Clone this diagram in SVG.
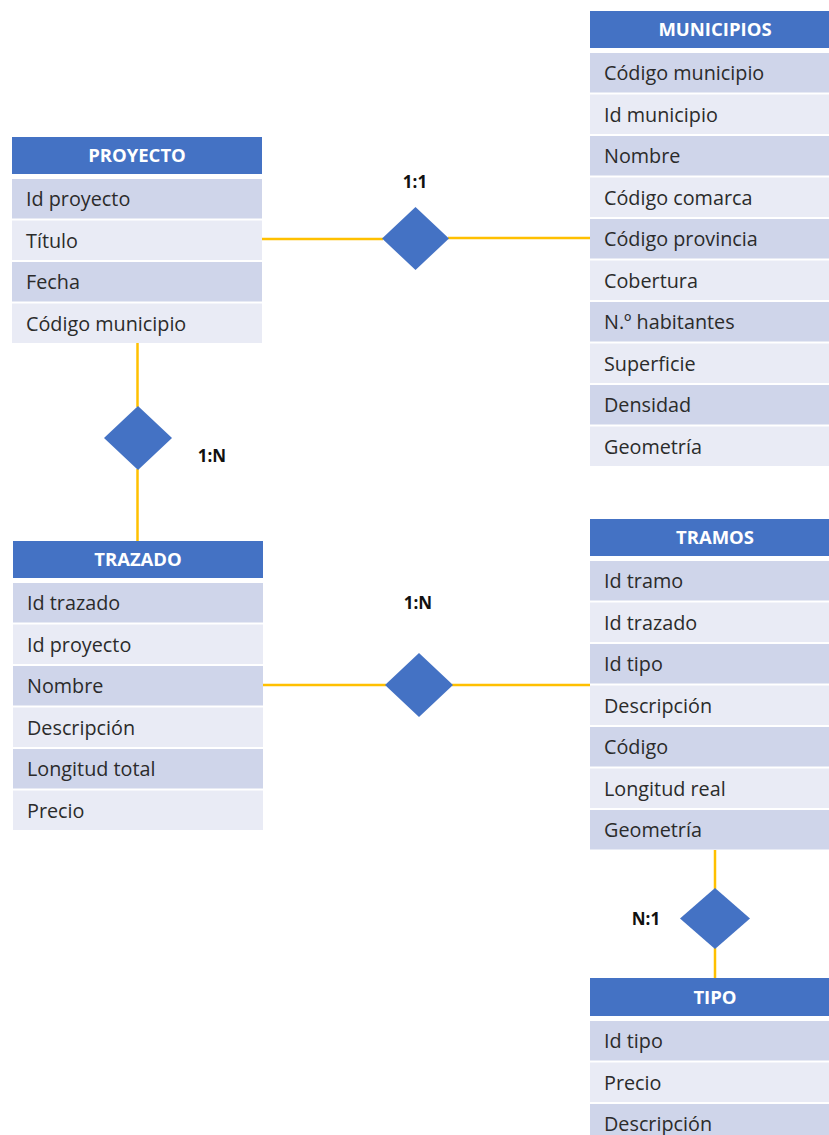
<svg xmlns="http://www.w3.org/2000/svg" width="829" height="1135" viewBox="0 0 829 1135">
<style>
.hd{fill:#4472C4}
.d{fill:#CFD5EA}
.l{fill:#E9EBF5}
.ht{font-family:"Open Sans","Liberation Sans",sans-serif;font-weight:bold;font-size:18.5px;fill:#fff;text-anchor:middle}
.t{font-family:"Open Sans","Liberation Sans",sans-serif;font-size:19.8px;fill:#2b2b2b}
.lb{font-family:"Open Sans","Liberation Sans",sans-serif;font-weight:bold;font-size:17px;fill:#111;text-anchor:middle}
.dm{fill:#4472C4}
.c{stroke:#FFC000;stroke-width:2.5;fill:none}
</style>
<g id="connectors">
<line class="c" x1="262" y1="239" x2="383" y2="239"/>
<line class="c" x1="448" y1="238" x2="590" y2="238"/>
<line class="c" x1="137.5" y1="343" x2="137.5" y2="407"/>
<line class="c" x1="137.5" y1="469" x2="137.5" y2="541"/>
<line class="c" x1="262" y1="685" x2="386" y2="685"/>
<line class="c" x1="452" y1="685" x2="590" y2="685"/>
<line class="c" x1="715" y1="850" x2="715" y2="889"/>
<line class="c" x1="715" y1="948" x2="715" y2="978"/>
</g>
<g id="rel-proyecto-municipios">
<polygon class="dm" points="415.5,207 449,238.5 415.5,270 382,238.5"/>
<text class="lb" x="415" y="188">1:1</text>
</g>
<g id="rel-proyecto-trazado">
<polygon class="dm" points="138,406 172,438 138,470 104,438"/>
<text class="lb" x="212" y="462">1:N</text>
</g>
<g id="rel-trazado-tramos">
<polygon class="dm" points="419,653 453,685 419,717 385,685"/>
<text class="lb" x="418" y="609">1:N</text>
</g>
<g id="rel-tramos-tipo">
<polygon class="dm" points="715,888 750,918.5 715,949 680,918.5"/>
<text class="lb" x="646" y="925">N:1</text>
</g>
<g id="proyecto">
<rect class="hd" x="12" y="137" width="250" height="37"/>
<text class="ht" x="137" y="162">PROYECTO</text>
<rect class="d" x="12" y="179" width="250" height="39.5"/>
<rect class="l" x="12" y="220.5" width="250" height="39.5"/>
<rect class="d" x="12" y="262" width="250" height="39.5"/>
<rect class="l" x="12" y="303.5" width="250" height="39.5"/>
<text class="t" x="26" y="206">Id proyecto</text>
<text class="t" x="26" y="247.5">Título</text>
<text class="t" x="26" y="289">Fecha</text>
<text class="t" x="26" y="330.5">Código municipio</text>
</g>
<g id="municipios">
<rect class="hd" x="590" y="11" width="250" height="37"/>
<text class="ht" x="715" y="36">MUNICIPIOS</text>
<rect class="d" x="590" y="53" width="250" height="39.5"/>
<rect class="l" x="590" y="94.5" width="250" height="39.5"/>
<rect class="d" x="590" y="136" width="250" height="39.5"/>
<rect class="l" x="590" y="177.5" width="250" height="39.5"/>
<rect class="d" x="590" y="219" width="250" height="39.5"/>
<rect class="l" x="590" y="260.5" width="250" height="39.5"/>
<rect class="d" x="590" y="302" width="250" height="39.5"/>
<rect class="l" x="590" y="343.5" width="250" height="39.5"/>
<rect class="d" x="590" y="385" width="250" height="39.5"/>
<rect class="l" x="590" y="426.5" width="250" height="39.5"/>
<text class="t" x="604" y="80">Código municipio</text>
<text class="t" x="604" y="121.5">Id municipio</text>
<text class="t" x="604" y="163">Nombre</text>
<text class="t" x="604" y="204.5">Código comarca</text>
<text class="t" x="604" y="246">Código provincia</text>
<text class="t" x="604" y="287.5">Cobertura</text>
<text class="t" x="604" y="329">N.º habitantes</text>
<text class="t" x="604" y="370.5">Superficie</text>
<text class="t" x="604" y="412">Densidad</text>
<text class="t" x="604" y="453.5">Geometría</text>
</g>
<g id="trazado">
<rect class="hd" x="13" y="541" width="250" height="37"/>
<text class="ht" x="138" y="566">TRAZADO</text>
<rect class="d" x="13" y="583" width="250" height="39.5"/>
<rect class="l" x="13" y="624.5" width="250" height="39.5"/>
<rect class="d" x="13" y="666" width="250" height="39.5"/>
<rect class="l" x="13" y="707.5" width="250" height="39.5"/>
<rect class="d" x="13" y="749" width="250" height="39.5"/>
<rect class="l" x="13" y="790.5" width="250" height="39.5"/>
<text class="t" x="27" y="610">Id trazado</text>
<text class="t" x="27" y="651.5">Id proyecto</text>
<text class="t" x="27" y="693">Nombre</text>
<text class="t" x="27" y="734.5">Descripción</text>
<text class="t" x="27" y="776">Longitud total</text>
<text class="t" x="27" y="817.5">Precio</text>
</g>
<g id="tramos">
<rect class="hd" x="590" y="519" width="250" height="37"/>
<text class="ht" x="715" y="544">TRAMOS</text>
<rect class="d" x="590" y="561" width="250" height="39.5"/>
<rect class="l" x="590" y="602.5" width="250" height="39.5"/>
<rect class="d" x="590" y="644" width="250" height="39.5"/>
<rect class="l" x="590" y="685.5" width="250" height="39.5"/>
<rect class="d" x="590" y="727" width="250" height="39.5"/>
<rect class="l" x="590" y="768.5" width="250" height="39.5"/>
<rect class="d" x="590" y="810" width="250" height="39.5"/>
<text class="t" x="604" y="588">Id tramo</text>
<text class="t" x="604" y="629.5">Id trazado</text>
<text class="t" x="604" y="671">Id tipo</text>
<text class="t" x="604" y="712.5">Descripción</text>
<text class="t" x="604" y="754">Código</text>
<text class="t" x="604" y="795.5">Longitud real</text>
<text class="t" x="604" y="837">Geometría</text>
</g>
<g id="tipo">
<rect class="hd" x="590" y="978" width="250" height="38"/>
<text class="ht" x="715" y="1004">TIPO</text>
<rect class="d" x="590" y="1021" width="250" height="39.5"/>
<rect class="l" x="590" y="1062.5" width="250" height="39.5"/>
<rect class="d" x="590" y="1104" width="250" height="39.5"/>
<text class="t" x="604" y="1048">Id tipo</text>
<text class="t" x="604" y="1089.5">Precio</text>
<text class="t" x="604" y="1131">Descripción</text>
</g>
</svg>
